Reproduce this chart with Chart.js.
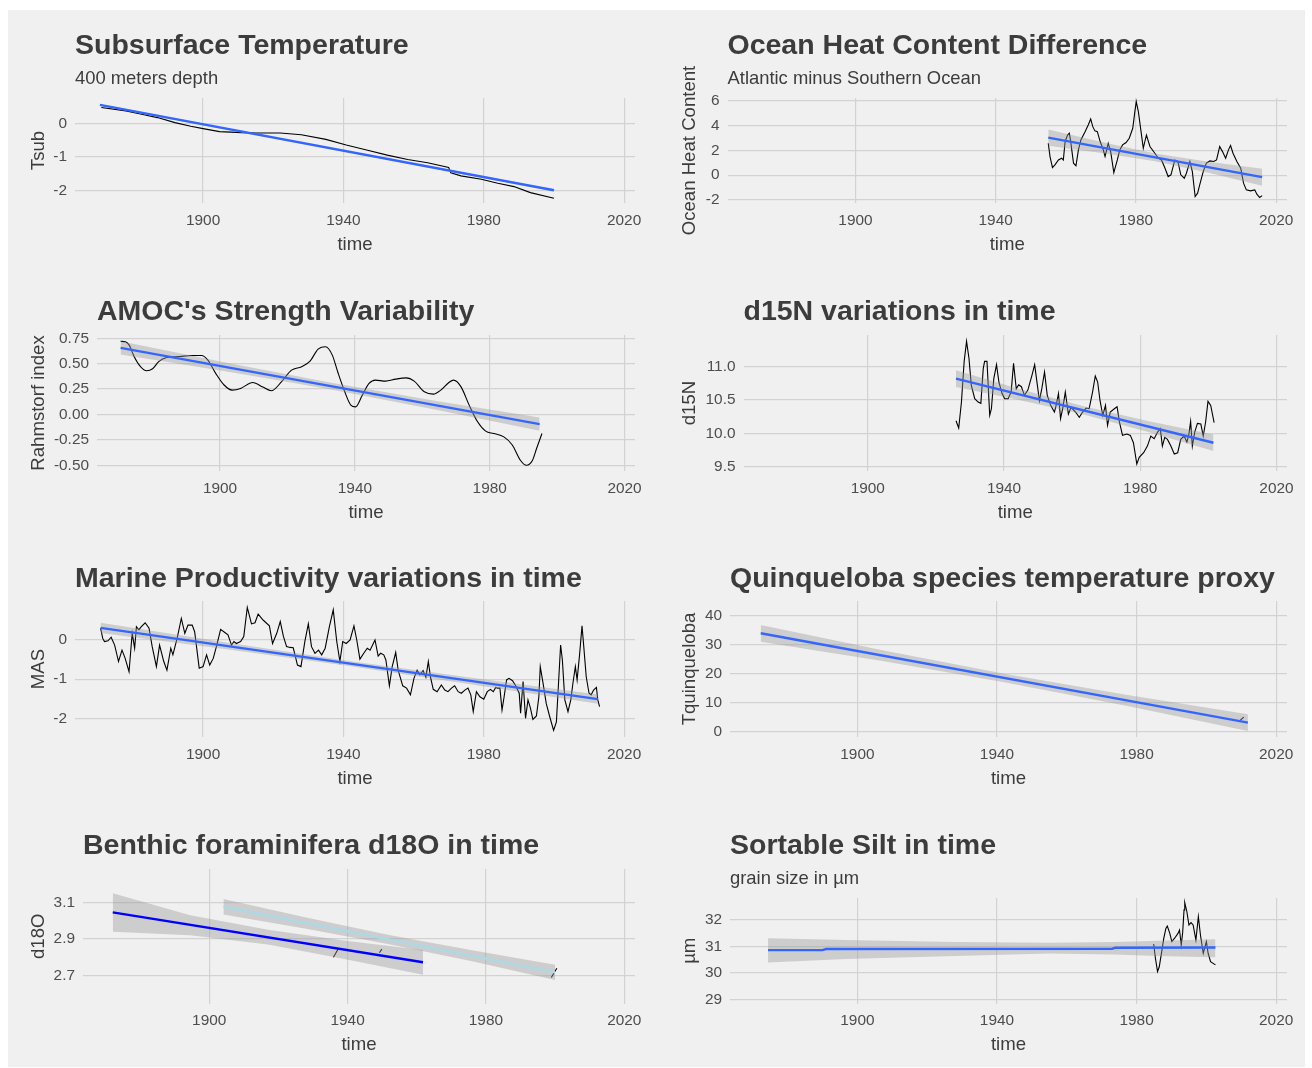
<!DOCTYPE html>
<html lang="en">
<head>
  <meta charset="UTF-8">
  <title>Ocean proxies over time</title>
  <script src="https://cdn.jsdelivr.net/npm/chart.js"></script>
  <style>
    body {
      margin: 0;
      background: #ffffff;
      font-family: "Liberation Sans", Arial, sans-serif;
    }
    #frame {
      position: absolute;
      left: 8px;
      top: 10px;
      width: 1297px;
      height: 1057px;
      background: #f0f0f0;
    }
    canvas { position: absolute; }
  </style>
</head>
<body>
  <div id="frame"></div>

  <script>
    // ---- data ----
    const xTicks = [1900, 1940, 1980, 2020];

    // Subsurface temperature (400 m)
    const tsubYears = [1871, 1878, 1882.5, 1887, 1892, 1896.5, 1900, 1904.7, 1911, 1915, 1922, 1928, 1935, 1940.8, 1946.6, 1952.5, 1958.3, 1964, 1970, 1970.6, 1973.5, 1979.3, 1984, 1988.6, 1993.3, 2000];
    const tsubValues = [0.47, 0.37, 0.27, 0.17, 0.02, -0.09, -0.16, -0.25, -0.28, -0.29, -0.29, -0.34, -0.48, -0.65, -0.80, -0.95, -1.08, -1.18, -1.32, -1.48, -1.57, -1.67, -1.79, -1.89, -2.07, -2.24];
    const tsubFitYears = [1870.6, 2000];
    const tsubFitValues = [0.55, -2.0];
    const tsubBandYears = [1870.6, 1935, 2000];
    const tsubBandHigh = [0.58, -0.70, -1.97];
    const tsubBandLow = [0.52, -0.745, -2.03];
    const tsubTicks = [-2, -1, 0];
    const tsubTickLabels = ['-2', '-1', '0'];

    // Ocean heat content difference
    const ohcYears = [1955.0, 1955.5, 1956.2, 1956.9, 1957.9, 1958.8, 1959.3, 1959.8, 1960.5, 1961, 1961.4, 1962.2, 1962.9, 1963.6, 1964.3, 1965.5, 1966.4, 1967.1, 1967.7, 1968.3, 1969, 1969.8, 1970.7, 1971.2, 1972.1, 1972.8, 1973.7, 1974.7, 1975.4, 1976.2, 1977.2, 1978.1, 1979.1, 1979.7, 1980.1, 1980.7, 1981.4, 1982.1, 1983, 1984, 1985.4, 1986.4, 1987.3, 1988.3, 1989.2, 1990, 1991.1, 1992, 1992.8, 1993.8, 1994.4, 1995.4, 1996.1, 1996.9, 1997.6, 1998.2, 1999.2, 2000.1, 2001.1, 2002.2, 2003, 2003.9, 2004.7, 2005.6, 2006.4, 2007, 2007.7, 2008.8, 2009.9, 2010.7, 2011.5, 2012.7, 2013.9, 2014.5, 2015.3, 2016];
    const ohcValues = [2.57, 1.5, 0.62, 0.83, 1.23, 1.37, 1.23, 2.7, 3.24, 3.38, 2.7, 0.97, 0.75, 2.04, 2.84, 3.51, 4.05, 4.53, 3.91, 3.57, 3.51, 2.71, 2.04, 1.5, 2.57, 1.9, 0.21, 1.23, 2.04, 2.44, 2.63, 2.98, 3.78, 5.12, 5.92, 5.12, 3.65, 2.17, 3.24, 2.31, 1.77, 1.37, 1.23, 0.56, -0.11, 0.03, 1.23, 1.1, 0.03, -0.24, 0.16, 1.1, 0.29, -1.72, -1.45, -0.78, 0.29, 0.97, 1.15, 1.1, 1.23, 2.31, 1.9, 1.37, 2.04, 2.39, 1.77, 1.1, 0.56, -0.64, -1.18, -1.26, -1.18, -1.53, -1.8, -1.64];
    const ohcFitYears = [1955, 2016];
    const ohcFitValues = [3.03, -0.16];
    const ohcBandYears = [1955, 1970.25, 1985.5, 2000.75, 2016];
    const ohcBandHigh = [3.68, 2.67, 1.74, 1.08, 0.52];
    const ohcBandLow = [2.38, 1.79, 1.13, 0.19, -0.86];
    const ohcTicks = [-2, 0, 2, 4, 6];
    const ohcTickLabels = ['-2', '0', '2', '4', '6'];

    // AMOC strength (Rahmstorf index)
    const amocYears = [1870.5, 1871.9, 1873.1, 1874.5, 1876.4, 1878.2, 1880, 1881.8, 1884.2, 1887.9, 1891.5, 1894.5, 1896.4, 1898.8, 1901.2, 1903.6, 1906.1, 1909.7, 1912.7, 1915.2, 1918.2, 1921.2, 1924.2, 1926.7, 1929.1, 1931.3, 1933.3, 1934.9, 1937, 1938.8, 1940.2, 1942.2, 1944.2, 1946.1, 1949.1, 1952.1, 1955.2, 1957.6, 1960.6, 1963.3, 1965.5, 1967.9, 1969.3, 1971.5, 1973.9, 1976.4, 1978.8, 1981.2, 1984.2, 1986.7, 1989.1, 1990.9, 1992.7, 1993.9, 1995.5];
    const amocValues = [0.72, 0.715, 0.68, 0.57, 0.47, 0.43, 0.45, 0.52, 0.56, 0.57, 0.58, 0.58, 0.535, 0.40, 0.29, 0.24, 0.256, 0.315, 0.27, 0.233, 0.32, 0.436, 0.47, 0.525, 0.643, 0.666, 0.584, 0.42, 0.223, 0.092, 0.075, 0.19, 0.305, 0.338, 0.328, 0.348, 0.36, 0.328, 0.223, 0.2, 0.24, 0.315, 0.338, 0.272, 0.092, -0.072, -0.164, -0.187, -0.22, -0.30, -0.45, -0.5, -0.45, -0.335, -0.187];
    const amocFitYears = [1870.5, 1994.8];
    const amocFitValues = [0.656, -0.095];
    const amocBandYears = [1870.5, 1901.6, 1932.6, 1963.7, 1994.8];
    const amocBandHigh = [0.721, 0.511, 0.314, 0.136, -0.030];
    const amocBandLow = [0.591, 0.425, 0.248, 0.050, -0.160];
    const amocTicks = [-0.5, -0.25, 0, 0.25, 0.5, 0.75];
    const amocTickLabels = ['-0.50', '-0.25', '0.00', '0.25', '0.50', '0.75'];

    // d15N
    const d15nYears = [1925.9, 1926.7, 1927.5, 1928.3, 1929, 1929.7, 1930.4, 1931.4, 1932.4, 1933.2, 1933.9, 1934.3, 1935, 1935.8, 1936.3, 1937, 1937.8, 1938.5, 1939.4, 1940.2, 1941.2, 1942.1, 1942.8, 1943.6, 1944.3, 1945.1, 1946, 1947, 1948.2, 1949, 1949.8, 1950.4, 1951.1, 1951.9, 1952.7, 1953.7, 1954.8, 1955.3, 1956, 1956.6, 1957.3, 1958, 1958.9, 1959.7, 1961, 1962.1, 1963.1, 1964.1, 1965, 1966, 1966.8, 1967.5, 1968.2, 1969, 1969.8, 1970.4, 1971.2, 1972.4, 1973.2, 1973.9, 1974.8, 1976.1, 1977.1, 1978, 1979, 1979.7, 1981, 1982.1, 1983.1, 1984.1, 1985.1, 1985.9, 1986.5, 1987.2, 1988, 1989, 1990, 1991, 1991.9, 1992.9, 1993.7, 1994.3, 1994.8, 1995.3, 1996, 1996.8, 1997.8, 1998.5, 1999.2, 1999.9, 2000.7, 2001.7];
    const d15nValues = [10.19, 10.08, 10.47, 11.08, 11.38, 11.13, 10.72, 10.52, 10.47, 10.45, 10.97, 11.08, 11.08, 10.27, 10.37, 10.82, 11.03, 10.77, 10.6, 10.52, 10.52, 10.62, 11.05, 10.67, 10.73, 10.7, 10.57, 10.65, 10.87, 11.03, 10.72, 10.49, 10.67, 10.92, 10.57, 10.42, 10.32, 10.42, 10.6, 10.22, 10.39, 10.62, 10.29, 10.39, 10.32, 10.24, 10.32, 10.38, 10.37, 10.62, 10.86, 10.77, 10.49, 10.27, 10.42, 10.12, 10.32, 10.37, 10.4, 10.17, 9.97, 9.99, 9.97, 9.86, 9.54, 9.64, 9.71, 9.81, 9.96, 9.92, 10.02, 10.07, 9.81, 9.94, 9.91, 9.81, 9.69, 9.71, 9.91, 9.96, 9.87, 9.99, 10.18, 9.81, 10.02, 10.15, 10.14, 9.96, 10.17, 10.48, 10.42, 10.16];
    const d15nFitYears = [1925.9, 2001.5];
    const d15nFitValues = [10.82, 9.86];
    const d15nBandYears = [1925.9, 1944.8, 1963.7, 1982.6, 2001.5];
    const d15nBandHigh = [10.945, 10.663, 10.402, 10.183, 9.985];
    const d15nBandLow = [10.695, 10.497, 10.278, 10.017, 9.735];
    const d15nTicks = [9.5, 10, 10.5, 11];
    const d15nTickLabels = ['9.5', '10.0', '10.5', '11.0'];

    // Marine productivity (MAS)
    const masYears = [1870.8, 1871.4, 1871.9, 1872.9, 1873.8, 1874.8, 1875.9, 1876.9, 1877.8, 1878.9, 1879.8, 1880.5, 1881, 1881.7, 1882.4, 1883.5, 1884.6, 1885.5, 1886.7, 1887.6, 1888.8, 1889.7, 1890.8, 1891.4, 1892.6, 1893.8, 1894.8, 1895.7, 1896.9, 1897.6, 1898.9, 1900, 1901, 1901.9, 1902.9, 1903.8, 1905, 1906.2, 1907.1, 1908.1, 1908.8, 1909.5, 1910.7, 1911.6, 1912.6, 1913.8, 1914.8, 1915.7, 1917.1, 1918.9, 1919.8, 1921, 1922, 1922.9, 1923.8, 1924.8, 1925.7, 1926.9, 1927.9, 1929, 1930, 1930.9, 1931.9, 1932.9, 1933.8, 1934.8, 1936, 1937.1, 1938.1, 1939, 1939.8, 1940.8, 1941.9, 1943, 1943.8, 1944.7, 1945.8, 1946.8, 1947.6, 1949, 1949.9, 1950.6, 1951.5, 1952.1, 1953.1, 1953.9, 1954.9, 1955.6, 1956.9, 1958, 1959.1, 1960.1, 1961, 1961.8, 1962.7, 1963.5, 1964.2, 1964.8, 1965.6, 1966.7, 1967.9, 1968.9, 1969.8, 1970.8, 1971.7, 1972.7, 1973.6, 1974.6, 1975.5, 1976.3, 1977, 1977.9, 1978.9, 1980, 1981, 1981.9, 1982.7, 1983.4, 1983.9, 1984.6, 1985.2, 1985.8, 1986.5, 1987.2, 1988.2, 1989.1, 1990.1, 1990.5, 1991.2, 1991.9, 1992.6, 1993.3, 1994, 1995, 1995.7, 1996.1, 1996.9, 1997.8, 1998.8, 1999.9, 2000.7, 2001.3, 2001.9, 2002.4, 2003.1, 2004, 2004.8, 2005.4, 2006.1, 2006.6, 2007.3, 2008, 2008.5, 2009.2, 2010, 2010.6, 2011.3, 2012.1, 2012.5, 2013];
    const masValues = [0.30, 0.04, -0.04, -0.02, 0.07, -0.13, -0.55, -0.26, -0.47, -0.81, 0.17, -0.21, 0.34, 0.26, 0.34, 0.44, 0.30, -0.17, -0.68, -0.13, -0.55, -0.77, -0.21, -0.38, 0.04, 0.55, 0.17, 0.38, 0.38, 0.21, -0.72, -0.68, -0.38, -0.64, -0.47, -0.17, 0.27, 0.19, 0.13, -0.13, -0.04, -0.09, -0.04, 0.09, 0.83, 0.41, 0.44, 0.66, 0.51, 0.36, -0.09, 0.17, 0.47, 0.09, -0.17, -0.19, -0.20, -0.64, -0.68, -0.04, 0.41, -0.17, -0.34, -0.26, -0.38, -0.21, 0.34, 0.77, -0.04, -0.55, -0.04, -0.09, 0.0, 0.36, 0.0, -0.49, -0.34, -0.21, -0.26, 0.0, -0.41, -0.34, -0.38, -0.51, -1.17, -0.68, -0.32, -0.77, -1.17, -1.23, -1.40, -0.98, -0.77, -0.89, -0.78, -0.95, -0.55, -0.94, -1.26, -1.32, -1.15, -1.28, -1.32, -1.23, -1.17, -1.32, -1.36, -1.28, -1.23, -1.40, -1.83, -1.32, -1.45, -1.51, -1.32, -1.26, -1.32, -1.21, -1.23, -1.23, -1.79, -1.45, -1.02, -0.98, -1.04, -1.17, -1.36, -1.87, -1.06, -2.0, -1.53, -1.74, -2.03, -1.94, -1.45, -0.68, -1.11, -1.62, -1.96, -2.31, -2.09, -1.11, -0.13, -0.51, -1.53, -1.83, -1.53, -1.11, -0.68, -1.02, -0.38, 0.36, -0.17, -0.94, -1.36, -1.40, -1.28, -1.21, -1.53, -1.70];
    const masFitYears = [1870.8, 2012.5];
    const masFitValues = [0.31, -1.51];
    const masBandYears = [1870.8, 1906.2, 1941.65, 1977.1, 2012.5];
    const masBandHigh = [0.44, -0.059, -0.535, -0.969, -1.39];
    const masBandLow = [0.18, -0.231, -0.665, -1.141, -1.63];
    const masTicks = [-2, -1, 0];
    const masTickLabels = ['-2', '-1', '0'];

    // Quinqueloba temperature proxy
    const quinYears = [2009.5, 2010.7];
    const quinValues = [3.6, 4.9];
    const quinFitYears = [1872.3, 2011.9];
    const quinFitValues = [34.0, 3.0];
    const quinBandYears = [1872.3, 1907.2, 1942.1, 1977, 2011.9];
    const quinBandHigh = [36.9, 28.15, 19.95, 12.65, 5.9];
    const quinBandLow = [31.1, 24.35, 17.05, 8.85, 0.1];
    const quinTicks = [0, 10, 20, 30, 40];
    const quinTickLabels = ['0', '10', '20', '30', '40'];

    // Benthic foraminifera d18O (two fits)
    const d18oYears = [1935.9, 1937.4, 1943, 1949.2, 1949.9, 1975, 1998.9, 2000.5];
    const d18oValues = [2.80, 2.85, null, 2.825, 2.845, null, 2.69, 2.74];
    const d18oFitAYears = [1872.1, 1961.8];
    const d18oFitAValues = [3.045, 2.773];
    const d18oBandAYears = [1872.1, 1894.5, 1917, 1939.4, 1961.8];
    const d18oBandAHigh = [3.15, 3.03, 2.95, 2.89, 2.84];
    const d18oBandALow = [2.94, 2.92, 2.87, 2.79, 2.705];
    const d18oFitBYears = [1904.1, 2000];
    const d18oFitBValues = [3.076, 2.718];
    const d18oBandBYears = [1904.1, 1928, 1952, 1976, 2000];
    const d18oBandBHigh = [3.118, 3.018, 2.922, 2.838, 2.76];
    const d18oBandBLow = [3.034, 2.956, 2.872, 2.778, 2.676];
    const d18oTicks = [2.7, 2.9, 3.1];
    const d18oTickLabels = ['2.7', '2.9', '3.1'];

    // Sortable silt
    const siltYears = [1984.9, 1985.4, 1986, 1986.5, 1987.2, 1987.8, 1988.4, 1988.8, 1989.5, 1990.1, 1990.9, 1991.9, 1992.3, 1992.8, 1993.2, 1993.6, 1993.8, 1994.4, 1995, 1995.6, 1996.2, 1997, 1997.7, 1998.3, 1999.1, 2000, 2000.5, 2001.2, 2002.6];
    const siltValues = [31.09, 30.55, 30.05, 30.23, 30.80, 31.31, 31.68, 31.77, 31.5, 31.18, 31.31, 31.5, 31.62, 31.05, 31.52, 32.38, 32.66, 32.32, 31.81, 31.9, 31.81, 31.24, 32.13, 31.43, 30.74, 31.18, 30.74, 30.42, 30.3];
    const siltFitYears = [1874.4, 1890, 1891, 1973, 1974, 2002.6];
    const siltFitValues = [30.86, 30.86, 30.9, 30.91, 30.95, 30.96];
    const siltBandYears = [1874.4, 1896.7, 1928, 1955, 1973.5, 1986.3, 2002.6];
    const siltBandHigh = [31.31, 31.24, 31.17, 31.14, 31.17, 31.21, 31.27];
    const siltBandLow = [30.39, 30.52, 30.64, 30.73, 30.69, 30.64, 30.59];
    const siltTicks = [29, 30, 31, 32];
    const siltTickLabels = ['29', '30', '31', '32'];

    // ---- styling / layout ----
    const FONT = '"Liberation Sans", Arial, sans-serif';
    const TEXT = '#3c3c3c';
    const GRID = '#d2d2d2';
    const SMOOTH = '#3366ff';
    const BAND = 'rgba(153,153,153,0.4)';
    const xRange = [1863.5, 2023.1];

    const colLeft = [0, 652];
    const colWidth = [652, 656];
    const rowTop = [0, 266, 533, 800];
    const canvasHeight = 268;
    const yTitleCenter = [39, 690];
    const axisTitleSize = 18.6;
    const tickSize = 15.4;

    const pts = (xs, ys) => xs.map((x, i) => ({ x: x, y: ys[i] }));

    const band = (xs, hi, lo) => [
      { data: pts(xs, hi), fill: '+1', backgroundColor: BAND, borderWidth: 0, pointRadius: 0, order: 2 },
      { data: pts(xs, lo), fill: false, borderWidth: 0, pointRadius: 0, order: 2 }
    ];
    const line = (xs, ys, color, width, extra) => Object.assign({
      data: pts(xs, ys), borderColor: color, borderWidth: width, pointRadius: 0, fill: false, tension: 0, order: 1
    }, extra || {});
    const raw = (xs, ys, extra) => line(xs, ys, '#000000', 1.1, Object.assign({ order: 3 }, extra || {}));

    const panels = [
      {
        title: 'Subsurface Temperature', sub: '400 meters depth', yTitle: 'Tsub',
        col: 0, row: 0, area: [75, 98, 635, 203], y: [-2.38, 0.755], ticks: tsubTicks, labels: tsubTickLabels,
        datasets: [raw(tsubYears, tsubValues), ...band(tsubBandYears, tsubBandHigh, tsubBandLow), line(tsubFitYears, tsubFitValues, SMOOTH, 2.4)]
      },
      {
        title: 'Ocean Heat Content Difference', sub: 'Atlantic minus Southern Ocean', yTitle: 'Ocean Heat Content',
        col: 1, row: 0, area: [727.5, 98, 1287, 203], y: [-2.24, 6.22], ticks: ohcTicks, labels: ohcTickLabels,
        datasets: [raw(ohcYears, ohcValues), ...band(ohcBandYears, ohcBandHigh, ohcBandLow), line(ohcFitYears, ohcFitValues, SMOOTH, 2.4)]
      },
      {
        title: "AMOC's Strength Variability", yTitle: 'Rahmstorf index',
        col: 0, row: 1, area: [97, 335, 635, 471], y: [-0.556, 0.782], ticks: amocTicks, labels: amocTickLabels,
        datasets: [raw(amocYears, amocValues, { cubicInterpolationMode: 'monotone', tension: 0.4 }), ...band(amocBandYears, amocBandHigh, amocBandLow), line(amocFitYears, amocFitValues, SMOOTH, 2.4)]
      },
      {
        title: 'd15N variations in time', yTitle: 'd15N',
        col: 1, row: 1, area: [743.5, 335, 1287, 471], y: [9.436, 11.475], ticks: d15nTicks, labels: d15nTickLabels,
        datasets: [raw(d15nYears, d15nValues), ...band(d15nBandYears, d15nBandHigh, d15nBandLow), line(d15nFitYears, d15nFitValues, SMOOTH, 2.4)]
      },
      {
        title: 'Marine Productivity variations in time', yTitle: 'MAS',
        col: 0, row: 2, area: [75, 601, 635, 737], y: [-2.477, 0.995], ticks: masTicks, labels: masTickLabels,
        datasets: [raw(masYears, masValues), ...band(masBandYears, masBandHigh, masBandLow), line(masFitYears, masFitValues, SMOOTH, 2.4)]
      },
      {
        title: 'Quinqueloba species temperature proxy', yTitle: 'Tquinqueloba',
        col: 1, row: 2, area: [730, 601, 1287, 737], y: [-1.98, 45.2], ticks: quinTicks, labels: quinTickLabels,
        datasets: [raw(quinYears, quinValues), ...band(quinBandYears, quinBandHigh, quinBandLow), line(quinFitYears, quinFitValues, SMOOTH, 2.4)]
      },
      {
        title: 'Benthic foraminifera d18O in time', yTitle: 'd18O',
        col: 0, row: 3, area: [83, 869, 635, 1003.5], y: [2.548, 3.282], ticks: d18oTicks, labels: d18oTickLabels,
        datasets: [raw(d18oYears, d18oValues), ...band(d18oBandAYears, d18oBandAHigh, d18oBandALow), ...band(d18oBandBYears, d18oBandBHigh, d18oBandBLow),
          line(d18oFitAYears, d18oFitAValues, '#0000ff', 2.4), line(d18oFitBYears, d18oFitBValues, '#add8e6', 2.4)]
      },
      {
        title: 'Sortable Silt in time', sub: 'grain size in µm', yTitle: 'µm',
        col: 1, row: 3, area: [730, 898, 1287, 1003.5], y: [28.84, 32.83], ticks: siltTicks, labels: siltTickLabels,
        datasets: [raw(siltYears, siltValues), ...band(siltBandYears, siltBandHigh, siltBandLow), line(siltFitYears, siltFitValues, SMOOTH, 2.4)]
      }
    ];

    // draws title and subtitle aligned with the panel's left edge
    const panelTitle = {
      id: 'panelTitle',
      afterDraw(chart, args, opts) {
        const { ctx, chartArea } = chart;
        ctx.save();
        ctx.fillStyle = TEXT;
        ctx.textBaseline = 'middle';
        ctx.font = 'bold 28.5px ' + FONT;
        ctx.fillText(opts.text, chartArea.left, 46.5);
        if (opts.sub) {
          ctx.font = '18.4px ' + FONT;
          ctx.fillText(opts.sub, chartArea.left, 79);
        }
        ctx.restore();
      }
    };

    Chart.defaults.font.family = FONT;
    Chart.defaults.color = TEXT;

    panels.forEach((p) => {
      const cLeft = colLeft[p.col];
      const cTop = rowTop[p.row];
      const cW = colWidth[p.col];
      const canvas = document.createElement('canvas');
      canvas.width = cW;
      canvas.height = canvasHeight;
      canvas.style.left = cLeft + 'px';
      canvas.style.top = cTop + 'px';
      document.body.appendChild(canvas);

      const [L, T, R, B] = p.area;
      const half = axisTitleSize * 1.2 / 2;
      const padLeft = yTitleCenter[p.col] - half - cLeft;
      const yWidth = L - cLeft - padLeft;
      const xHeight = 41.5 + half;
      const padBottom = cTop + canvasHeight - B - xHeight;

      new Chart(canvas.getContext('2d'), {
        type: 'line',
        data: { datasets: p.datasets },
        options: {
          responsive: false,
          animation: false,
          events: [],
          layout: { padding: { left: padLeft, top: T - cTop, right: cLeft + cW - R, bottom: padBottom } },
          plugins: {
            legend: { display: false },
            tooltip: { enabled: false },
            panelTitle: { text: p.title, sub: p.sub }
          },
          scales: {
            x: {
              type: 'linear',
              min: xRange[0],
              max: xRange[1],
              afterBuildTicks: (s) => { s.ticks = xTicks.map((v) => ({ value: v })); },
              afterFit: (s) => { s.height = xHeight; },
              ticks: { color: '#4d4d4d', font: { size: tickSize }, padding: 8.5, autoSkip: false, maxRotation: 0, callback: (v) => String(v) },
              grid: { color: GRID, lineWidth: 1.2, drawTicks: false },
              border: { display: false },
              title: { display: true, text: 'time', color: TEXT, font: { size: axisTitleSize }, padding: 0 }
            },
            y: {
              type: 'linear',
              min: p.y[0],
              max: p.y[1],
              afterBuildTicks: (s) => { s.ticks = p.ticks.map((v) => ({ value: v })); },
              afterFit: (s) => { s.width = yWidth; },
              ticks: { color: '#4d4d4d', font: { size: tickSize }, padding: 8, autoSkip: false, callback: (v, i) => p.labels[i] },
              grid: { color: GRID, lineWidth: 1.2, drawTicks: false },
              border: { display: false },
              title: { display: true, text: p.yTitle, color: TEXT, font: { size: axisTitleSize }, padding: 0 }
            }
          }
        },
        plugins: [panelTitle]
      });
    });
  </script>
</body>
</html>
